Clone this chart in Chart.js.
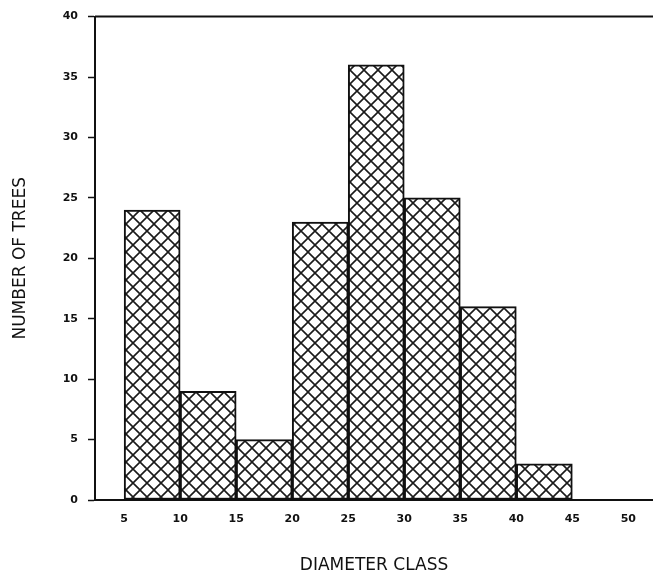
<!DOCTYPE html>
<html>
<head>
<meta charset="utf-8">
<script src="https://cdn.jsdelivr.net/npm/chart.js@4"></script>
<style>
  html, body { margin: 0; padding: 0; background: #fff; }
  #wrap { width: 653px; height: 581px; position: relative; }
</style>
</head>
<body>
<div id="wrap"><canvas id="diameter-chart"></canvas></div>
<script>
const classStarts = [5, 10, 15, 20, 25, 30, 35, 40];
const treeCounts = [24, 9, 5, 23, 36, 25, 16, 3];
const xTickValues = [5, 10, 15, 20, 25, 30, 35, 40, 45, 50];
const yTickValues = [0, 5, 10, 15, 20, 25, 30, 35, 40];
const classWidth = 5;

function crossHatch() {
  const size = 14;
  const tile = document.createElement("canvas");
  tile.width = size;
  tile.height = size;
  const c = tile.getContext("2d");
  c.fillStyle = "#ffffff";
  c.fillRect(0, 0, size, size);
  c.strokeStyle = "#1a1a1a";
  c.lineWidth = 1.6;
  c.beginPath();
  c.moveTo(-2, -2);
  c.lineTo(size + 2, size + 2);
  c.moveTo(size + 2, -2);
  c.lineTo(-2, size + 2);
  c.stroke();
  return c.createPattern(tile, "repeat");
}

// top frame line of the plot
const topLine = {
  id: "topLine",
  afterDraw(chart) {
    const a = chart.chartArea;
    const ctx = chart.ctx;
    ctx.save();
    ctx.strokeStyle = "#111";
    ctx.lineWidth = 2;
    ctx.beginPath();
    ctx.moveTo(a.left, a.top);
    ctx.lineTo(a.right, a.top);
    ctx.stroke();
    ctx.restore();
  },
};

function diameterChart() {
  const canvasElement = document.querySelector("canvas#diameter-chart");
  let ctx = canvasElement?.getContext("2d");
  if (!ctx) return;

  const points = classStarts.map((s, i) => ({ x: s + classWidth / 2, y: treeCounts[i] }));

  new Chart(ctx, {
    type: "bar",
    data: {
      datasets: [
        {
          label: "Trees",
          data: points,
          backgroundColor: crossHatch(),
          borderColor: "#111",
          borderWidth: 2,
          borderSkipped: false,
          barPercentage: 1,
          categoryPercentage: 1,
        },
      ],
    },
    options: {
      responsive: true,
      maintainAspectRatio: false,
      animation: false,
      layout: {
        padding: { top: 15, right: 0, bottom: 0, left: 0 },
      },
      plugins: {
        legend: { display: false },
        tooltip: { enabled: false },
      },
      scales: {
        x: {
          type: "linear",
          offset: false,
          min: 2.4,
          max: 52.2,
          afterBuildTicks: (scale) => {
            scale.ticks = xTickValues.map((v) => ({ value: v }));
          },
          afterFit: (scale) => {
            scale.height = 81;
          },
          grid: { display: false },
          border: { display: true, color: "#111", width: 2 },
          ticks: {
            padding: 5,
            maxRotation: 0,
            color: "#111",
            font: { family: "DejaVu Sans", size: 11, weight: "bold" },
          },
          title: {
            display: true,
            text: "DIAMETER CLASS",
            color: "#111",
            padding: { top: 0, bottom: 5 },
            font: { family: "DejaVu Sans", size: 17 },
          },
        },
        y: {
          min: 0,
          max: 40,
          afterBuildTicks: (scale) => {
            scale.ticks = yTickValues.map((v) => ({ value: v }));
          },
          afterFit: (scale) => {
            scale.width = 95;
          },
          grid: {
            display: true,
            drawOnChartArea: false,
            drawTicks: true,
            tickLength: 7,
            tickWidth: 1.5,
            tickColor: "#111",
          },
          border: { display: true, color: "#111", width: 2 },
          ticks: {
            padding: 10,
            color: "#111",
            font: { family: "DejaVu Sans", size: 11, weight: "bold" },
          },
          title: {
            display: true,
            text: "NUMBER OF TREES",
            color: "#111",
            padding: { top: 10, bottom: 0 },
            font: { family: "DejaVu Sans", size: 17 },
          },
        },
      },
    },
    plugins: [topLine],
  });
}

document.addEventListener("DOMContentLoaded", () => {
  diameterChart();
});
</script>
</body>
</html>
